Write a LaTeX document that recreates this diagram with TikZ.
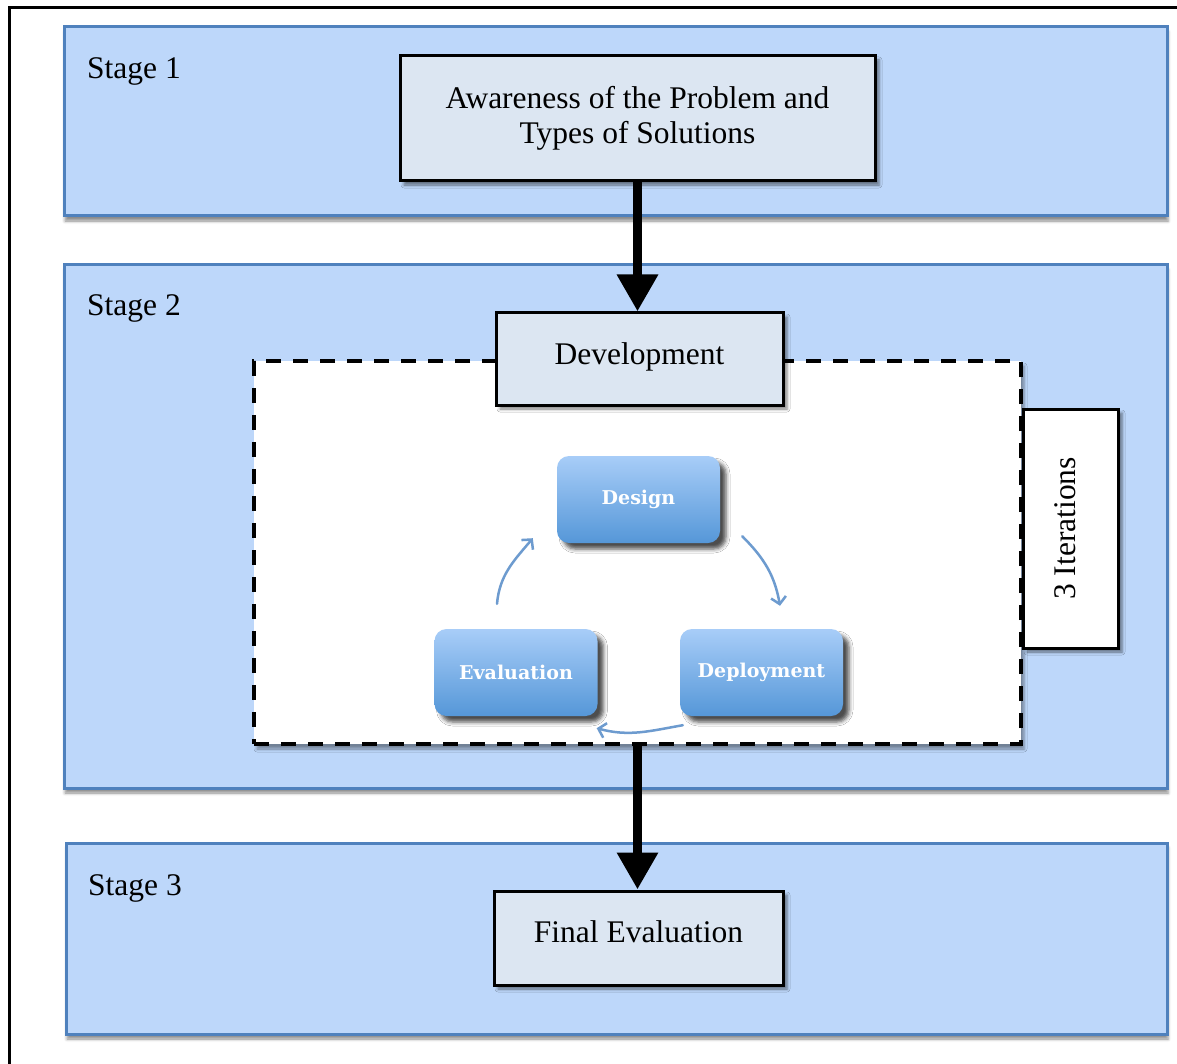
\documentclass[tikz,border=0pt]{standalone}
\usepackage{fontspec}
\setmainfont{Liberation Serif}
\newfontfamily\cyclefont{DejaVu Serif}
\usetikzlibrary{arrows.meta,shadows.blur}

\definecolor{stagefill}{HTML}{BDD7FA}
\definecolor{stageline}{HTML}{4F81BD}
\definecolor{boxfill}{HTML}{DCE6F2}
\definecolor{cyctop}{HTML}{A8CDF8}
\definecolor{cycbot}{HTML}{5597D8}
\definecolor{cycarrow}{HTML}{6D9BCF}

\tikzset{
  stagebox/.style={draw=stageline, line width=3pt, fill=stagefill, inner sep=0pt,
    blur shadow={shadow xshift=1pt, shadow yshift=-5pt, shadow blur radius=3pt, shadow opacity=45}},
  stagelabel/.style={anchor=base west, inner sep=0pt, font=\fontsize{31.5}{36}\selectfont},
  labelbox/.style={draw=black, line width=3pt, fill=boxfill, inner sep=0pt, align=center,
    font=\fontsize{31.5}{35}\selectfont,
    blur shadow={shadow xshift=4pt, shadow yshift=-4pt, shadow blur radius=3pt, shadow opacity=50}},
  cyclebox/.style={rounded corners=12pt, top color=cyctop, bottom color=cycbot, inner sep=0pt,
    minimum width=163pt, minimum height=87pt, text=white,
    font=\cyclefont\bfseries\fontsize{19}{22}\selectfont,
    blur shadow={shadow xshift=6pt, shadow yshift=-6pt, shadow blur radius=4pt, shadow opacity=70}},
  bigarrow/.style={line width=9.5pt, -{Triangle[width=39pt,length=37pt]}},
  cyclearrow/.style={draw=cycarrow, line width=2.5pt, line cap=round,
    -{Straight Barb[length=7pt,width=15pt]}},
}

\begin{document}
\begin{tikzpicture}[x=1pt,y=1pt]
\useasboundingbox (0,0) rectangle (1177,-1064);

% page frame
\draw[line width=3pt] (9.5,-1064) |- (1177,-8);

% stage bands
\node[stagebox, minimum width=1103pt, minimum height=189pt] (s1) at (615.5,-121.5) {};
\node[stagebox, minimum width=1103pt, minimum height=523pt] (s2) at (615.5,-526.5) {};
\node[stagebox, minimum width=1101pt, minimum height=191pt] (s3) at (616.5,-938.5) {};

\node[stagelabel] (s1lab) at (87,-79) {Stage 1};
\node[stagelabel] (s2lab) at (87,-316) {Stage 2};
\node[stagelabel] (s3lab) at (88,-895) {Stage 3};

% stage 1
\node[labelbox, minimum width=475pt, minimum height=125pt] (aware) at (637.5,-118.5)
  {Awareness of the Problem and\\Types of Solutions};

% stage 2: iteration loop
\node[draw, line width=4pt, dash pattern=on 15pt off 12pt, fill=white, inner sep=0pt,
  minimum width=767pt, minimum height=383pt,
  blur shadow={shadow xshift=3pt, shadow yshift=-5pt, shadow blur radius=3pt, shadow opacity=40}]
  (loop) at (637.5,-552.5) {};
\node[labelbox, minimum width=287pt, minimum height=92pt, text depth=10pt] (dev)
  at (639.5,-359) {Development};
\node[labelbox, fill=white, rotate=90, minimum width=239pt, minimum height=95pt,
  text depth=10pt] (iter) at (1070.5,-528.5) {3 Iterations};

\node[cyclebox] (design) at (638.5,-499.5) {Design};
\node[cyclebox] (eval)   at (516,-672.5)   {Evaluation};
\node[cyclebox] (deploy) at (761.5,-672.5) {Deployment};

\draw[cyclearrow] ([shift={(22,7)}]design.south east) to[out=-45,in=100]
  ([shift={(18.5,23)}]deploy.north);
\draw[cyclearrow] ([shift={(3,-9)}]deploy.south west) to[out=190,in=-15]
  ([shift={(-1,-12)}]eval.south east);
\draw[cyclearrow] ([shift={(-19,25)}]eval.north) to[out=85,in=-130]
  ([shift={(-24,5)}]design.south west);

% stage 3
\node[labelbox, minimum width=289pt, minimum height=94pt, text depth=12pt] (final)
  at (638.5,-938) {Final Evaluation};

% flow between stages
\draw[bigarrow] (aware.south) -- (aware.south |- dev.north);
\draw[bigarrow] (loop.south) -- (loop.south |- final.north);
\end{tikzpicture}
\end{document}
